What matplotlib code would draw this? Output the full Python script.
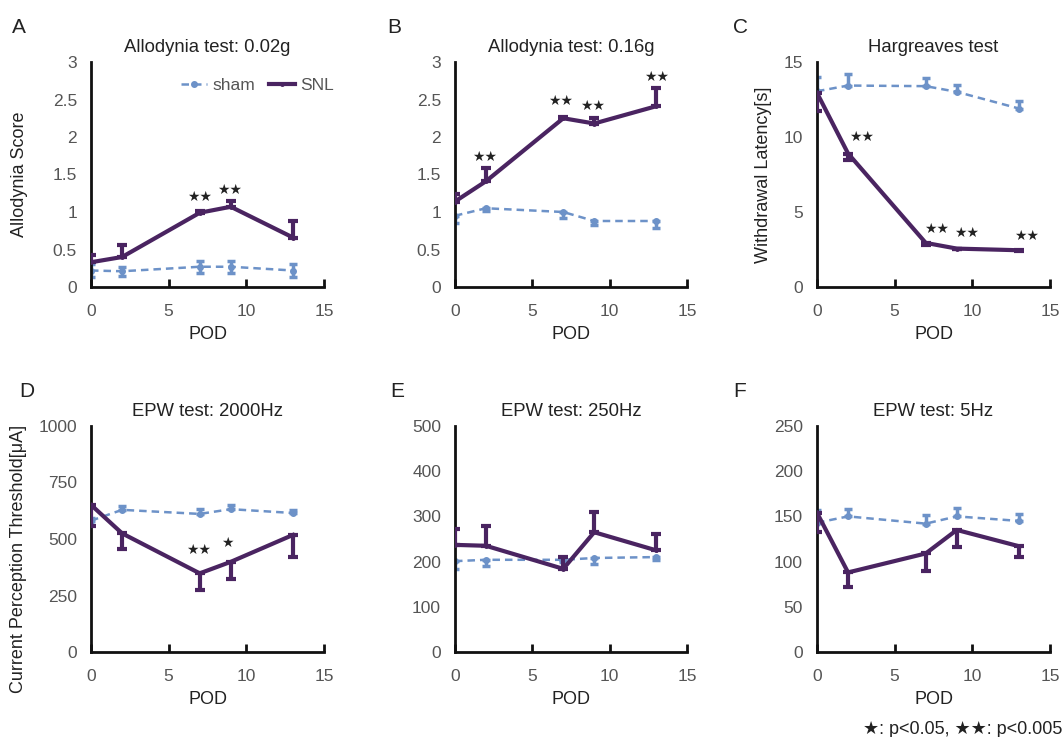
import matplotlib
matplotlib.use("Agg")
import matplotlib.pyplot as plt
from matplotlib.lines import Line2D

plt.rcParams['font.family'] = ['Liberation Sans', 'DejaVu Sans']

pod = [0, 2, 7, 9, 13]

# Panel A: Allodynia 0.02g
a_snl = [0.33, 0.40, 0.99, 1.07, 0.66]
a_snl_err = [0.10, 0.16, 0.02, 0.08, 0.22]
a_sham = [0.22, 0.21, 0.27, 0.27, 0.22]
a_sham_err = [0.09, 0.06, 0.08, 0.08, 0.09]

# Panel B: Allodynia 0.16g
b_snl = [1.14, 1.41, 2.25, 2.18, 2.41]
b_snl_err = [0.10, 0.18, 0.02, 0.07, 0.24]
b_sham = [0.95, 1.05, 1.00, 0.88, 0.88]
b_sham_err = [0.10, 0.03, 0.08, 0.05, 0.09]

# Panel C: Hargreaves
c_snl = [12.94, 8.90, 2.94, 2.56, 2.45]
c_snl_err = [1.20, 0.42, 0.16, 0.05, 0.05]
c_sham = [13.05, 13.43, 13.39, 13.01, 11.90]
c_sham_err = [0.93, 0.77, 0.55, 0.44, 0.49]

# Panel D: EPW 2000Hz
d_snl = [651, 525, 348, 399, 518]
d_snl_err = [92, 71, 74, 77, 96]
d_sham = [581, 629, 611, 632, 615]
d_sham_err = [10, 17, 21, 20, 15]

# Panel E: EPW 250Hz
e_snl = [237, 235, 184, 265, 225]
e_snl_err = [36, 44, 26, 45, 37]
e_sham = [201, 204, 204, 208, 210]
e_sham_err = [17, 14, 5, 14, 7]

# Panel F: EPW 5Hz
f_snl = [154, 88, 109, 135, 117]
f_snl_err = [21, 16, 19, 19, 12]
f_sham = [143, 150, 142, 150, 145]
f_sham_err = [14, 8, 9, 9, 8]

titles = ["Allodynia test: 0.02g", "Allodynia test: 0.16g", "Hargreaves test",
          "EPW test: 2000Hz", "EPW test: 250Hz", "EPW test: 5Hz"]
letters = ["A", "B", "C", "D", "E", "F"]
ylabels = ["Allodynia Score", "", "Withdrawal Latency[s]",
           "Current Perception Threshold[\u03bcA]", "", ""]
ylims = [3, 3, 15, 1000, 500, 250]
yticks = [[0, 0.5, 1, 1.5, 2, 2.5, 3], [0, 0.5, 1, 1.5, 2, 2.5, 3],
          [0, 5, 10, 15], [0, 250, 500, 750, 1000],
          [0, 100, 200, 300, 400, 500], [0, 50, 100, 150, 200, 250]]
ytick_labels = [["0", "0.5", "1", "1.5", "2", "2.5", "3"],
                ["0", "0.5", "1", "1.5", "2", "2.5", "3"],
                ["0", "5", "10", "15"], ["0", "250", "500", "750", "1000"],
                ["0", "100", "200", "300", "400", "500"],
                ["0", "50", "100", "150", "200", "250"]]
# error direction: +1 up, -1 down, 0 both
snl_dir = [1, 1, -1, -1, 1, -1]
sham_dir = [0, -1, 1, 1, -1, 1]

snl_data = [(a_snl, a_snl_err), (b_snl, b_snl_err), (c_snl, c_snl_err),
            (d_snl, d_snl_err), (e_snl, e_snl_err), (f_snl, f_snl_err)]
sham_data = [(a_sham, a_sham_err), (b_sham, b_sham_err), (c_sham, c_sham_err),
             (d_sham, d_sham_err), (e_sham, e_sham_err), (f_sham, f_sham_err)]

STAR2 = "\u2605\u2605"
STAR1 = "\u2605"
# significance stars: (panel, x, y, text)
stars = [
    (0, 7.0, 1.20, STAR2), (0, 8.95, 1.30, STAR2),
    (1, 1.94, 1.73, STAR2), (1, 6.8, 2.48, STAR2), (1, 8.9, 2.41, STAR2),
    (1, 13.06, 2.80, STAR2),
    (2, 2.9, 10.0, STAR2), (2, 7.7, 3.9, STAR2), (2, 9.66, 3.58, STAR2),
    (2, 13.5, 3.38, STAR2),
    (3, 6.95, 451, STAR2), (3, 8.8, 482, STAR1),
]

SNL_C = "#4a2461"
SHAM_C = "#6d92c8"
GRAY = "#555555"

fig = plt.figure(figsize=(10.62, 7.37), dpi=100)
lefts = [91, 455, 817]
widths = [233, 232, 233]
rows = [(62, 287), (426, 652)]
letter_x = [-0.34, -0.29, -0.36, -0.31, -0.28, -0.36]
ylabel_x = {0: -0.27, 2: -0.193, 3: -0.275}
ylabel_y = {0: 0.5, 2: 0.5, 3: 0.41}

for i in range(6):
    r, c = divmod(i, 3)
    top, bot = rows[r]
    ax = fig.add_axes([lefts[c] / 1062, 1 - bot / 737, widths[c] / 1062, (bot - top) / 737])
    sv, se = snl_data[i]
    hv, he = sham_data[i]
    if sham_dir[i] == 0:
        herr = [he, he]
    elif sham_dir[i] > 0:
        herr = [[0] * 5, he]
    else:
        herr = [he, [0] * 5]
    ax.errorbar(pod, hv, yerr=herr, color=SHAM_C, lw=1.8, ls=(0, (3, 2)),
                marker='o', ms=4, elinewidth=2.5, capsize=3, capthick=2.5, zorder=2)
    if snl_dir[i] > 0:
        serr = [[0] * 5, se]
    else:
        serr = [se, [0] * 5]
    ax.errorbar(pod, sv, yerr=serr, color=SNL_C, lw=3, marker='o', ms=2.5,
                elinewidth=3, capsize=3.5, capthick=3, zorder=3)
    ax.set_xlim(0, 15)
    ax.set_ylim(0, ylims[i])
    ax.set_xticks([0, 5, 10, 15])
    ax.set_xticklabels(["0", "5", "10", "15"])
    ax.set_yticks(yticks[i])
    ax.set_yticklabels(ytick_labels[i])
    for s in ["top", "right"]:
        ax.spines[s].set_visible(False)
    for s in ["left", "bottom"]:
        ax.spines[s].set_linewidth(2)
        ax.spines[s].set_color("#111111")
    ax.tick_params(axis='x', direction='in', length=6, width=2, colors="#111111",
                   labelcolor=GRAY, labelsize=12.5, pad=12)
    ax.tick_params(axis='y', direction='in', length=0, labelcolor=GRAY,
                   labelsize=12.5, pad=10)
    ax.set_xlabel("POD", fontsize=13, color="#222222", labelpad=5)
    if ylabels[i]:
        ax.set_ylabel(ylabels[i], fontsize=13, color="#222222")
        ax.yaxis.set_label_coords(ylabel_x[i], ylabel_y[i])
    ax.set_title(titles[i], fontsize=13.3, color="#222222", pad=7.5)
    ax.text(letter_x[i], 1.152, letters[i], transform=ax.transAxes,
            fontsize=15, color="#222222", ha='left', va='center')
    if i == 0:
        h1 = Line2D([], [], color=SHAM_C, lw=1.8, ls=(0, (3, 2)), marker='o', ms=4)
        h2 = Line2D([], [], color=SNL_C, lw=3, marker='o', ms=2.5)
        ax.legend([h1, h2], ["sham", "SNL"], ncol=2, frameon=False, loc='upper right',
                  bbox_to_anchor=(1.11, 1.0), fontsize=12.5, labelcolor=GRAY,
                  handlelength=1.5, handletextpad=0.3, columnspacing=0.8)
    for (p, x, y, t) in stars:
        if p == i:
            ax.text(x, y, t, fontsize=10, ha='center', va='center', color="#222222",
                    family=['DejaVu Sans'])

fig.text(1.0, 1 - 729 / 737, "\u2605: p<0.05, \u2605\u2605: p<0.005", ha='right', va='center',
         fontsize=13, color="#222222", family=['Liberation Sans', 'DejaVu Sans'])

fig.savefig("out.png", dpi=100)
